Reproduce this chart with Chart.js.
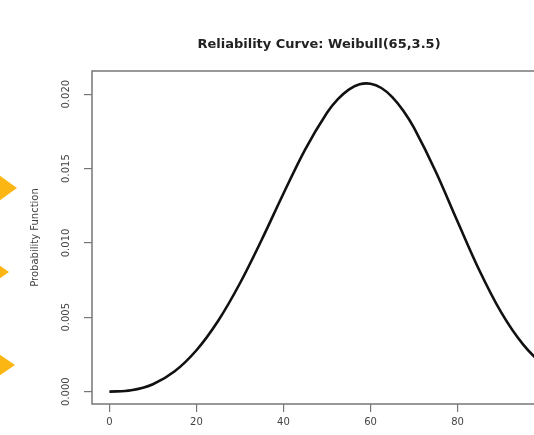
<!DOCTYPE html>
<html>
<head>
<meta charset="utf-8">
<script src="https://cdn.jsdelivr.net/npm/chart.js@4.4.1/dist/chart.umd.min.js"></script>
<style>
  html, body { margin: 0; padding: 0; background: #fff; }
  #wrap { position: relative; width: 534px; height: 435px; overflow: hidden; background: #fff; }
  #c { position: absolute; left: 0; top: 0; }
  .tri { position: absolute; width: 0; height: 0; border-style: solid; border-color: transparent transparent transparent #FBB614; }
</style>
</head>
<body>
<div id="wrap">
  <canvas id="c" width="638" height="435"></canvas>
  <div class="tri" style="left:-12px; top:167px; border-width:21px 0 21px 29px;"></div>
  <div class="tri" style="left:-20px; top:252px; border-width:20px 0 20px 29px;"></div>
  <div class="tri" style="left:-14px; top:345px; border-width:20px 0 20px 29px;"></div>
</div>
<script>
// ---- Data ----
const chartTitle = 'Reliability Curve: Weibull(65,3.5)';
const yAxisTitle = 'Probability Function';
const xValues = [0, 5, 10, 15, 20, 25, 30, 35, 40, 45, 50, 52.5, 55, 57.5, 60, 62.5, 65, 67.5, 70, 75, 80, 85, 90, 95, 100, 104];
const yValues = [0, 0.0000884, 0.000499, 0.001369, 0.002783, 0.004768, 0.007289, 0.010216, 0.013324,
                 0.016293, 0.018749, 0.019662, 0.020312, 0.020667, 0.020705, 0.020417, 0.019809, 0.018903,
                 0.017731, 0.014789, 0.011440, 0.008162, 0.005344, 0.003193, 0.001726, 0.000981];
const xTicks = [0, 20, 40, 60, 80, 100];
const yTicks = [0, 0.005, 0.010, 0.015, 0.020];

const points = xValues.map((x, i) => ({ x: x, y: yValues[i] }));

const tickFont = { family: 'DejaVu Sans', size: 10 };
const axisGray = '#777';
const textGray = '#444';

const boxPlugin = {
  id: 'boxAndTitle',
  afterDraw(chart) {
    const { ctx, chartArea: a } = chart;
    ctx.save();
    ctx.strokeStyle = axisGray;
    ctx.lineWidth = 1.5;
    ctx.strokeRect(a.left, a.top, a.right - a.left, a.bottom - a.top);
    ctx.fillStyle = '#222';
    ctx.font = 'bold 13px "DejaVu Sans"';
    ctx.textAlign = 'center';
    ctx.textBaseline = 'middle';
    ctx.fillText(chartTitle, 319, 45);
    ctx.restore();
  }
};

new Chart(document.getElementById('c'), {
  type: 'line',
  data: {
    datasets: [{
      data: points,
      borderColor: '#111',
      borderWidth: 2.6,
      pointRadius: 0,
      fill: false,
      tension: 0.35
    }]
  },
  options: {
    responsive: false,
    animation: false,
    devicePixelRatio: 1,
    layout: { padding: { top: 71, left: 0, right: 76, bottom: 0 } },
    plugins: {
      legend: { display: false },
      title: { display: false },
      tooltip: { enabled: false }
    },
    scales: {
      x: {
        type: 'linear',
        min: -4,
        max: 104,
        afterBuildTicks: s => { s.ticks = xTicks.map(v => ({ value: v })); },
        afterFit: s => { s.height = 31; },
        border: { display: false },
        grid: { drawOnChartArea: false, drawTicks: true, tickLength: 8, color: axisGray, lineWidth: 1.2 },
        ticks: { padding: 4, font: tickFont, color: textGray, autoSkip: false, maxRotation: 0,
                 callback: v => String(v) }
      },
      y: {
        type: 'linear',
        min: -0.00083,
        max: 0.02156,
        afterBuildTicks: s => { s.ticks = yTicks.map(v => ({ value: v })); },
        afterFit: s => { s.width = 92; },
        border: { display: false },
        grid: { drawOnChartArea: false, drawTicks: true, tickLength: 8, color: axisGray, lineWidth: 1.2 },
        ticks: { minRotation: 90, maxRotation: 90, crossAlign: 'center', padding: 3, autoSkip: false,
                 font: tickFont, color: textGray, callback: v => v.toFixed(3) },
        title: { display: true, text: yAxisTitle, font: { family: 'DejaVu Sans', size: 10 }, color: textGray,
                 padding: { top: 29, bottom: 0 } }
      }
    }
  },
  plugins: [boxPlugin]
});
</script>
</body>
</html>
